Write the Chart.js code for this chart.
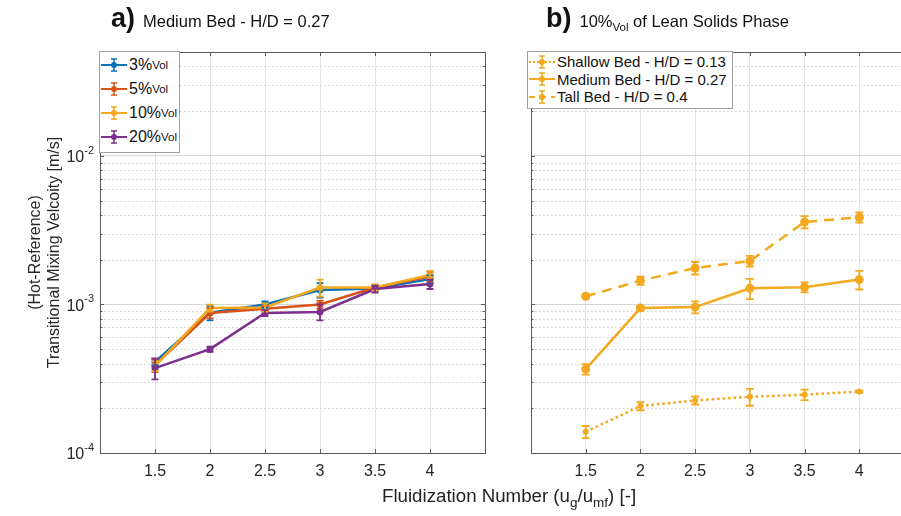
<!DOCTYPE html>
<html>
<head>
<meta charset="utf-8">
<script src="https://cdn.jsdelivr.net/npm/chart.js@4.4.1/dist/chart.umd.min.js"></script>
<style>
  html, body { margin: 0; padding: 0; width: 901px; height: 516px; overflow: hidden; background: #fff;
    font-family: 'Liberation Sans', Arial, sans-serif; color: #222; }
  #wrapA { position: absolute; left: 0; top: 0; width: 500px; height: 516px; }
  #wrapB { position: absolute; left: 500px; top: 0; width: 440px; height: 516px; }
  .title { position: absolute; top: 3px; font-size: 16.5px; white-space: nowrap; color: #111; }
  .title b { font-size: 27px; margin-right: 8px; }
  .title sub { font-size: 11.5px; }
  .legend sub { font-size: 11.5px; }
  .legend { position: absolute; background: #fff; border: 1px solid #a0a0a0; font-size: 15px; color: #111; }
  .legend .row { display: flex; align-items: center; white-space: nowrap; }
  .legend svg { flex: none; margin-right: 1px; }
  #xTitle { position: absolute; top: 485px; left: 382px; font-size: 18.7px; white-space: nowrap; color: #222; }
  #xTitle sub { font-size: 13.5px; }
</style>
</head>
<body>
<div id="wrapA"><canvas id="chartA"></canvas></div>
<div id="wrapB"><canvas id="chartB"></canvas></div>

<div class="title" style="left:111px;"><b>a)</b>Medium Bed - H/D = 0.27</div>
<div class="title" style="left:546px;"><b>b)</b>10%<sub>Vol</sub> of Lean Solids Phase</div>

<div class="legend" id="legendA" style="left:99px; top:51px; width:79px; padding:1px 0 3px 0;"></div>
<div class="legend" id="legendB" style="left:527px; top:51px; width:204px; padding:1px 0 2px 0;"></div>

<div id="xTitle">Fluidization Number (u<sub>g</sub>/u<sub>mf</sub>) [-]</div>

<script>
// x values and axis ticks
const fluidNumbers = [1.5, 2, 2.5, 3, 3.5, 4];
const xTickValues = [1.5, 2, 2.5, 3, 3.5, 4];
const yDecades = [1e-4, 1e-3, 1e-2];
const yMin = 1e-4;
const yMax = 5e-2;

// a) Medium Bed - H/D = 0.27, by volume fraction of lean solids
const vol3 = [4.1e-4, 8.8e-4, 1.0e-3, 1.25e-3, 1.28e-3, 1.48e-3];
const vol3Err = [0.02e-3, 0.10e-3, 0.05e-3, 0.14e-3, 0.06e-3, 0.09e-3];
const vol5 = [3.9e-4, 8.75e-4, 9.35e-4, 1.0e-3, 1.3e-3, 1.54e-3];
const vol5Err = [0.04e-3, 0.07e-3, 0.04e-3, 0.06e-3, 0.06e-3, 0.12e-3];
const vol10 = [3.85e-4, 9.45e-4, 9.55e-4, 1.3e-3, 1.3e-3, 1.58e-3];
const vol10Err = [0.03e-3, 0.05e-3, 0.06e-3, 0.17e-3, 0.06e-3, 0.1e-3];
const vol20 = [3.73e-4, 5.0e-4, 8.75e-4, 8.9e-4, 1.27e-3, 1.37e-3];
const vol20Err = [0.06e-3, 0.02e-3, 0.04e-3, 0.11e-3, 0.07e-3, 0.1e-3];

// b) 10%Vol, by bed height
const shallowBed = [1.39e-4, 2.07e-4, 2.26e-4, 2.39e-4, 2.47e-4, 2.59e-4];
const shallowErr = [0.013e-3, 0.013e-3, 0.014e-3, 0.031e-3, 0.02e-3, 0.004e-3];
const mediumBed = [3.67e-4, 9.45e-4, 9.6e-4, 1.285e-3, 1.305e-3, 1.47e-3];
const mediumErr = [0.03e-3, 0.03e-3, 0.09e-3, 0.2e-3, 0.1e-3, 0.21e-3];
const tallBed = [1.135e-3, 1.445e-3, 1.76e-3, 1.96e-3, 3.59e-3, 3.86e-3];
const tallErr = [0.035e-3, 0.09e-3, 0.17e-3, 0.16e-3, 0.34e-3, 0.3e-3];

const BLUE = '#0B72BA', ORANGE = '#D95319', YELLOW = '#F2A91E', PURPLE = '#7E2F8E';

const yTickValues = [];
yDecades.forEach(d => {
  for (let k = 1; k <= 9; k++) {
    const v = k * d;
    if (v <= yMax * 1.0001) yTickValues.push(v);
  }
});
const isDecade = v => Math.abs(Math.log10(v) - Math.round(Math.log10(v))) < 1e-6;

const toPoints = ys => fluidNumbers.map((x, i) => ({ x: x, y: ys[i] }));

// minor dotted grid, error bars, box frame, inward ticks and 10^n labels
const matlabAxes = {
  id: 'matlabAxes',
  beforeDatasetsDraw(chart) {
    const { ctx, chartArea: a, scales: { y } } = chart;
    ctx.save();
    ctx.strokeStyle = '#cfcfcf';
    ctx.lineWidth = 1;
    ctx.setLineDash([1.5, 2.5]);
    y.ticks.forEach(t => {
      if (isDecade(t.value)) return;
      const py = Math.round(y.getPixelForValue(t.value)) + 0.5;
      ctx.beginPath();
      ctx.moveTo(a.left, py);
      ctx.lineTo(a.right, py);
      ctx.stroke();
    });
    ctx.restore();
  },
  afterDatasetsDraw(chart) {
    const { ctx, scales: { x, y } } = chart;
    chart.data.datasets.forEach(ds => {
      ctx.save();
      ctx.strokeStyle = ds.borderColor;
      ctx.lineWidth = 1.8;
      ctx.setLineDash([]);
      ds.data.forEach((p, j) => {
        const e = ds.errors[j];
        const px = x.getPixelForValue(p.x);
        const top = y.getPixelForValue(p.y + e);
        const bot = y.getPixelForValue(p.y - e);
        const cap = ds.capWidth;
        ctx.beginPath();
        ctx.moveTo(px, top); ctx.lineTo(px, bot);
        ctx.moveTo(px - cap, top); ctx.lineTo(px + cap, top);
        ctx.moveTo(px - cap, bot); ctx.lineTo(px + cap, bot);
        ctx.stroke();
      });
      ctx.restore();
    });
  },
  afterDraw(chart, args, opts) {
    const { ctx, chartArea: a, scales: { x, y } } = chart;
    ctx.save();
    ctx.strokeStyle = '#5a5a5a';
    ctx.lineWidth = 1;
    ctx.strokeRect(Math.round(a.left) + 0.5, Math.round(a.top) + 0.5,
      Math.round(a.right - a.left), Math.round(a.bottom - a.top));
    ctx.beginPath();
    x.ticks.forEach(t => {
      const px = Math.round(x.getPixelForValue(t.value)) + 0.5;
      ctx.moveTo(px, a.top); ctx.lineTo(px, a.top + 4);
      ctx.moveTo(px, a.bottom); ctx.lineTo(px, a.bottom - 4);
    });
    y.ticks.forEach(t => {
      const py = Math.round(y.getPixelForValue(t.value)) + 0.5;
      const len = isDecade(t.value) ? 4 : 2.5;
      ctx.moveTo(a.left, py); ctx.lineTo(a.left + len, py);
      ctx.moveTo(a.right, py); ctx.lineTo(a.right - len, py);
    });
    ctx.stroke();

    if (opts.labels) {
      ctx.fillStyle = '#262626';
      ctx.textAlign = 'right';
      ctx.textBaseline = 'middle';
      y.ticks.forEach(t => {
        if (!isDecade(t.value)) return;
        const py = y.getPixelForValue(t.value);
        const exp = String(Math.round(Math.log10(t.value)));
        const right = a.left - 6;
        ctx.font = "11px 'Liberation Sans', Arial";
        const w = ctx.measureText(exp).width;
        ctx.fillText(exp, right, py - 5);
        ctx.font = "16px 'Liberation Sans', Arial";
        ctx.fillText('10', right - w, py + 2);
      });
    }
    ctx.restore();
  }
};

function makeChart(canvasId, datasets, opts) {
  return new Chart(document.getElementById(canvasId).getContext('2d'), {
    type: 'line',
    data: { datasets: datasets },
    plugins: [matlabAxes],
    options: {
      responsive: true,
      maintainAspectRatio: false,
      animation: false,
      layout: { padding: { top: 52, right: opts.padRight, left: 0, bottom: 0 } },
      plugins: {
        legend: { display: false },
        tooltip: { enabled: false },
        matlabAxes: { labels: opts.showY }
      },
      elements: { line: { tension: 0 } },
      scales: {
        x: {
          type: 'linear',
          min: 1,
          max: 4.5,
          afterBuildTicks: s => { s.ticks = xTickValues.map(v => ({ value: v })); },
          afterFit: s => { s.height = 63; },
          grid: { color: '#e4e4e4', drawTicks: false },
          border: { color: '#5a5a5a' },
          ticks: {
            padding: 9,
            color: '#262626',
            font: { family: "'Liberation Sans', Arial", size: 16 },
            callback: v => String(v)
          }
        },
        y: {
          type: 'logarithmic',
          min: yMin,
          max: yMax,
          afterBuildTicks: s => { s.ticks = yTickValues.map(v => ({ value: v, major: isDecade(v) })); },
          afterFit: s => { s.width = opts.yWidth; },
          grid: { color: c => (c.tick && isDecade(c.tick.value)) ? '#d6d6d6' : 'rgba(0,0,0,0)', drawTicks: false },
          border: { color: '#5a5a5a' },
          title: {
            display: opts.showY,
            text: ['(Hot-Reference)', 'Transitional Mixing Velcoity [m/s]'],
            color: '#262626',
            font: { family: "'Liberation Sans', Arial", size: 16 },
            padding: { top: 26, bottom: 0 }
          },
          ticks: {
            autoSkip: false,
            padding: 7,
            color: '#262626',
            font: { family: "'Liberation Sans', Arial", size: 15 },
            callback: () => ''
          }
        }
      }
    }
  });
}

function series(label, ys, errs, color, extra) {
  return Object.assign({
    label: label,
    data: toPoints(ys),
    errors: errs,
    borderColor: color,
    backgroundColor: color,
    borderWidth: 2.5,
    pointRadius: 3.5,
    pointBorderWidth: 0,
    capWidth: 3.5
  }, extra || {});
}

makeChart('chartA', [
  series('3%Vol', vol3, vol3Err, BLUE, { order: 4 }),
  series('5%Vol', vol5, vol5Err, ORANGE, { order: 3 }),
  series('10%Vol', vol10, vol10Err, YELLOW, { order: 2 }),
  series('20%Vol', vol20, vol20Err, PURPLE, { order: 1 })
], { yWidth: 100, padRight: 15, showY: true });

makeChart('chartB', [
  series('Shallow Bed - H/D = 0.13', shallowBed, shallowErr, YELLOW, { borderDash: [2.5, 3], pointRadius: 3, capWidth: 4 }),
  series('Medium Bed - H/D = 0.27', mediumBed, mediumErr, YELLOW, { pointRadius: 4.5, capWidth: 4 }),
  series('Tall Bed - H/D = 0.4', tallBed, tallErr, YELLOW, { borderDash: [10, 7], pointRadius: 4.5, capWidth: 4 })
], { yWidth: 31, padRight: 26, showY: false });

// legends with MATLAB-like errorbar symbols
function legendSymbol(color, dash) {
  return '<svg width="28" height="16"><line x1="1" y1="8" x2="27" y2="8" stroke="' + color +
    '" stroke-width="2"' + (dash ? ' stroke-dasharray="' + dash + '"' : '') + '/>' +
    '<path d="M14 2V14M11 2H17M11 14H17" stroke="' + color + '" stroke-width="1.5" fill="none"/>' +
    '<circle cx="14" cy="8" r="3" fill="' + color + '"/></svg>';
}
const legendA = [
  ['3%', BLUE], ['5%', ORANGE], ['10%', YELLOW], ['20%', PURPLE]
];
document.getElementById('legendA').innerHTML = legendA.map(l =>
  '<div class="row" style="height:24px; font-size:16px;">' + legendSymbol(l[1]) + l[0] + '<sub>Vol</sub></div>').join('');
const legendB = [
  ['Shallow Bed - H/D = 0.13', '2,2'], ['Medium Bed - H/D = 0.27', ''], ['Tall Bed - H/D = 0.4', '6,5']
];
document.getElementById('legendB').innerHTML = legendB.map(l =>
  '<div class="row" style="height:17.5px;">' + legendSymbol(YELLOW, l[1]) + l[0] + '</div>').join('');
</script>
</body>
</html>
